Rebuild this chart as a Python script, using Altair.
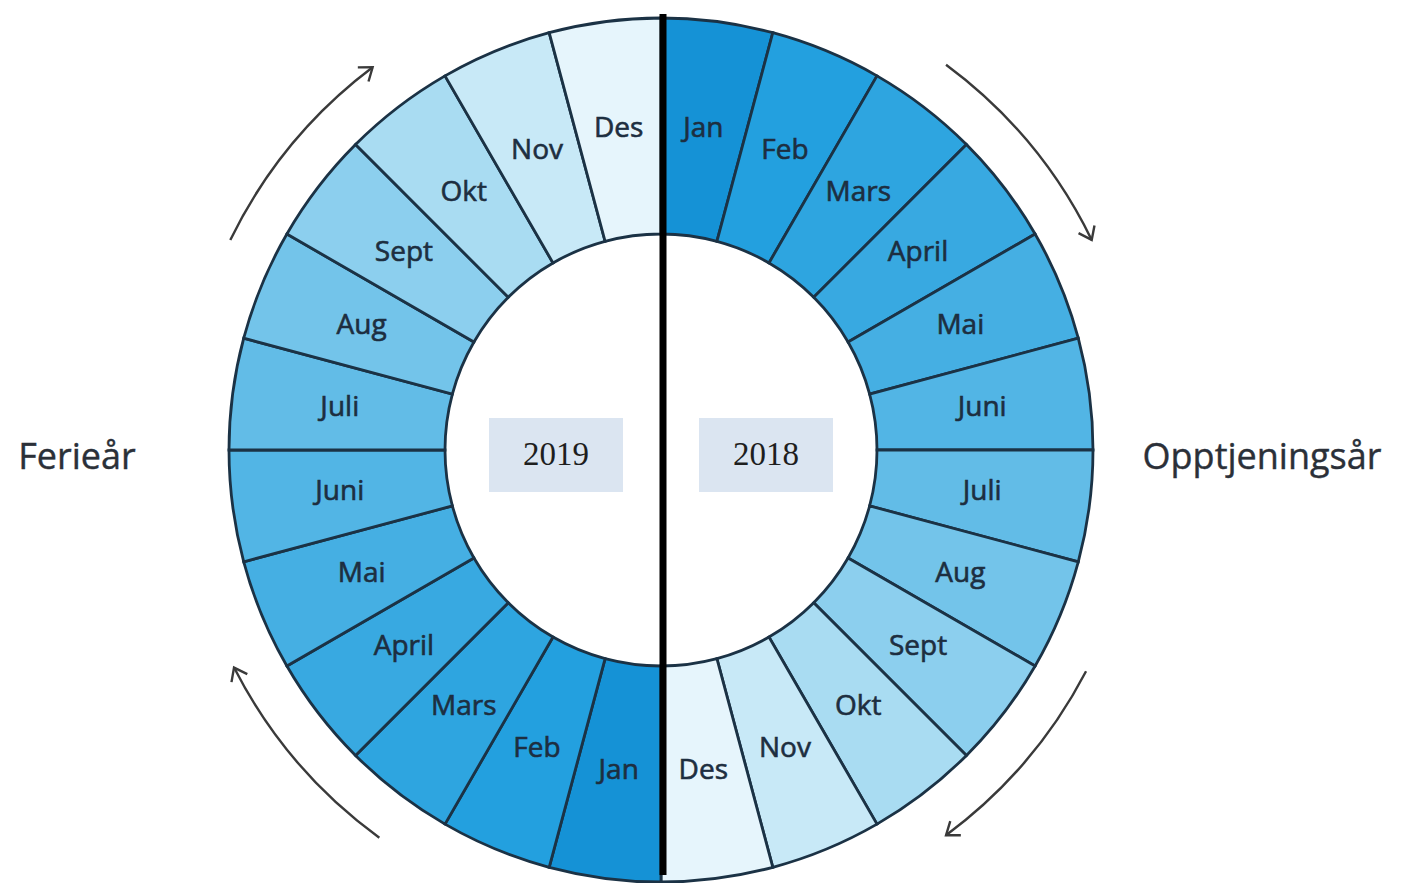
import altair as alt
import pandas as pd

# ---- data -------------------------------------------------------------
months = ["Jan", "Feb", "Mars", "April", "Mai", "Juni", "Juli", "Aug",
          "Sept", "Okt", "Nov", "Des"]
month_colors = ["#1592d6", "#23a0df", "#2ea5e0", "#38a9e1", "#45afe3",
                "#52b5e5", "#62bce7", "#73c4ea", "#8ccfee", "#a9dcf2",
                "#c8e9f7", "#e6f5fc"]
ring_years = ["2018", "2019"]          # clockwise from 12 o'clock
box_years = ["2019", "2018"]
box_side = [-1, 1]
side_labels = ["Ferieår", "Opptjeningsår"]
arrow_start_deg = [36.5, 117.5, 216.0, 296.0]
arrow_end_deg = [64.0, 143.5, 243.0, 323.0]

# ---- layout -----------------------------------------------------------
W, H = 1386, 867
CX, CY = 653, 442
R_IN, R_OUT = 216, 432
R_LABEL = 324
R_ARROW = 478
LINE_X = 655

rows = []
for yi, yr in enumerate(ring_years):
    for mi, m in enumerate(months):
        rows.append({"idx": yi * 12 + mi, "year": yr, "month": m, "value": 1})
ring = pd.DataFrame(rows)

base = alt.Chart(ring)

donut = base.mark_arc(innerRadius=R_IN, outerRadius=R_OUT,
                      stroke="#1b3245", strokeWidth=2.8).encode(
    theta=alt.Theta("value:Q", stack=True),
    order=alt.Order("idx:Q", sort="ascending"),
    color=alt.Color("month:N", scale=alt.Scale(domain=months, range=month_colors),
                    legend=None),
    x=alt.value(CX), y=alt.value(CY),
)

labels = base.mark_text(radius=R_LABEL, font="Open Sans", fontSize=28,
                        color="#1d2e40", stroke="#1d2e40", strokeWidth=0.6,
                        align="center", baseline="middle").encode(
    theta=alt.Theta("value:Q", stack=True),
    order=alt.Order("idx:Q", sort="ascending"),
    text="month:N",
    x=alt.value(CX), y=alt.value(CY),
)

vline = alt.Chart(pd.DataFrame({"k": [0]})).mark_rule(
    color="black", strokeWidth=7).encode(
    x=alt.value(LINE_X), y=alt.value(6), y2=alt.value(H))

boxes_df = pd.DataFrame({"year": box_years, "side": box_side})
boxes_base = alt.Chart(boxes_df).transform_calculate(
    cx=f"{CX} + datum.side * 105",
    x0=f"{CX} + datum.side * 105 - 67",
    x1=f"{CX} + datum.side * 105 + 67",
    y0=f"{CY} - 32",
    y1=f"{CY} + 42",
    cy=f"{CY} + 5",
)
boxes = boxes_base.mark_rect(color="#dbe5f1").encode(
    x=alt.X("x0:Q", scale=None, axis=None), x2="x1:Q",
    y=alt.Y("y0:Q", scale=None, axis=None), y2="y1:Q")
box_text = boxes_base.mark_text(font="Liberation Serif", fontSize=33,
                                color="#1e1e1e", baseline="middle").encode(
    x=alt.X("cx:Q", scale=None, axis=None),
    y=alt.Y("cy:Q", scale=None, axis=None),
    text="year:N")

side_df = pd.DataFrame({"label": side_labels, "px": [69, 1254]})
side = alt.Chart(side_df).mark_text(font="Open Sans", fontSize=36,
                                     color="#2b3038", stroke="#2b3038",
                                     strokeWidth=0.4, baseline="middle").encode(
    x=alt.X("px:Q", scale=None, axis=None),
    y=alt.value(CY + 8),
    text="label:N")

arrows_df = pd.DataFrame({"d0": arrow_start_deg, "d1": arrow_end_deg})
arrows_base = alt.Chart(arrows_df).transform_calculate(
    a0="datum.d0 * PI / 180",
    a1="datum.d1 * PI / 180",
).transform_calculate(
    hx=f"{CX} + {R_ARROW + 1.2} * sin(datum.a1)",
    hy=f"{CY} - {R_ARROW + 1.2} * cos(datum.a1)",
    rot="datum.d1",
)
arrow_arcs = arrows_base.mark_arc(innerRadius=R_ARROW, outerRadius=R_ARROW + 2.4,
                                  color="#3a3a3a").encode(
    theta=alt.Theta("a0:Q", scale=None), theta2="a1:Q",
    x=alt.value(CX), y=alt.value(CY))
arrow_heads = arrows_base.mark_point(
    shape="M-1,-0.75L0,0L-1,0.75", filled=False, size=560,
    strokeWidth=2.4, color="#3a3a3a", opacity=1).encode(
    x=alt.X("hx:Q", scale=None, axis=None),
    y=alt.Y("hy:Q", scale=None, axis=None),
    angle=alt.Angle("rot:Q", scale=None))

chart = alt.layer(
    donut, labels, arrow_arcs, arrow_heads, boxes, box_text, side, vline
).resolve_scale(theta="independent").properties(
    width=W, height=H, padding=0, background="white"
).configure_view(stroke=None)

chart.save("out.html", embed_options={"renderer": "svg", "actions": False})
